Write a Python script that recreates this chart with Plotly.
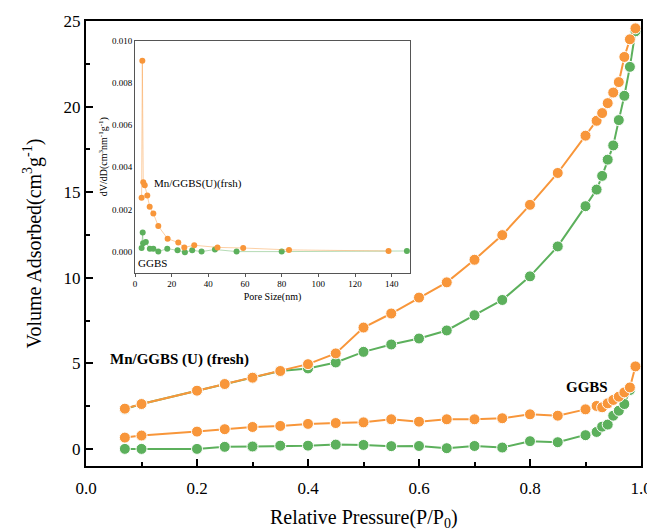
import plotly.graph_objects as go

# Main isotherms (relative pressure vs volume adsorbed)
p_points = [0.07, 0.10, 0.20, 0.25, 0.30, 0.35, 0.40, 0.45, 0.50, 0.55, 0.60, 0.65, 0.70,
            0.75, 0.80, 0.85, 0.90, 0.92, 0.93, 0.94, 0.95, 0.96, 0.97, 0.98, 0.99]
mn_orange_v = [2.35, 2.62, 3.40, 3.79, 4.16, 4.55, 4.95, 5.58, 7.09, 7.91, 8.84, 9.73, 11.05,
               12.49, 14.26, 16.12, 18.30, 19.17, 19.62, 20.20, 20.82, 21.43, 22.90, 23.93, 24.57]
mn_green_v = [2.33, 2.62, 3.40, 3.79, 4.16, 4.55, 4.70, 5.05, 5.67, 6.10, 6.45, 6.92, 7.81,
              8.70, 10.08, 11.83, 14.18, 15.15, 15.95, 16.90, 17.73, 19.21, 20.63, 22.32, 24.40]
gg_orange_v = [0.66, 0.78, 1.01, 1.15, 1.28, 1.34, 1.46, 1.51, 1.55, 1.73, 1.59, 1.73, 1.73,
               1.79, 2.02, 1.94, 2.31, 2.51, 2.43, 2.66, 2.86, 3.05, 3.30, 3.59, 4.82]
gg_green_p = p_points[:-1]
gg_green_v = [0.00, 0.00, 0.00, 0.12, 0.14, 0.19, 0.19, 0.25, 0.23, 0.16, 0.17, 0.04, 0.17,
              0.08, 0.45, 0.39, 0.80, 0.99, 1.30, 1.42, 1.94, 2.23, 2.62, 3.44]

# Inset: pore size distribution
pore_mn = [3.6, 4.0, 4.5, 5.3, 6.7, 8.0, 10.0, 12.7, 17.8, 23.6, 26.9, 32.3, 45.0, 59.0, 84.0, 138.3]
dvdd_mn = [0.00255, 0.00905, 0.00329, 0.00315, 0.00266, 0.00213, 0.00181, 0.00121, 0.00061,
           0.00043, 0.00020, 0.00030, 0.00020, 0.00017, 0.00008, 0.00003]
pore_gg = [3.6, 4.2, 4.4, 5.9, 8.1, 10.0, 12.7, 17.6, 23.2, 27.2, 31.2, 36.3, 43.6, 55.4, 80.0, 148.3]
dvdd_gg = [0.00017, 0.00090, 0.00039, 0.00045, 0.00014, 0.00014, 0.0, 0.00014, 0.00006,
           -0.00003, 0.00006, 0.0, 0.0001, 0.0, 0.0, 0.00003]

x_ticks = [0.0, 0.2, 0.4, 0.6, 0.8, 1.0]
y_ticks = [0, 5, 10, 15, 20, 25]
inset_x_ticks = [0, 20, 40, 60, 80, 100, 120, 140]
inset_y_ticks = [0.000, 0.002, 0.004, 0.006, 0.008, 0.010]

ORANGE = "#F8963A"
GREEN = "#5CB05C"
FONT = "Liberation Serif"

fig = go.Figure()

def main_trace(x, y, color):
    return go.Scatter(x=x, y=y, mode="lines+markers",
                      line=dict(color=color, width=2),
                      marker=dict(color=color, size=11, line=dict(color="white", width=1)),
                      showlegend=False, xaxis="x", yaxis="y")

fig.add_trace(main_trace(gg_green_p, gg_green_v, GREEN))
fig.add_trace(main_trace(p_points, gg_orange_v, ORANGE))
fig.add_trace(main_trace(p_points, mn_green_v, GREEN))
fig.add_trace(main_trace(p_points, mn_orange_v, ORANGE))

def inset_trace(x, y, color, lcolor):
    return go.Scatter(x=x, y=y, mode="lines+markers",
                      line=dict(color=lcolor, width=1),
                      marker=dict(color=color, size=6),
                      showlegend=False, xaxis="x2", yaxis="y2")

fig.add_trace(inset_trace(pore_gg, dvdd_gg, GREEN, "rgba(92,176,92,0.45)"))
fig.add_trace(inset_trace(pore_mn, dvdd_mn, ORANGE, "rgba(248,150,58,0.45)"))

fig.update_layout(
    width=647, height=524,
    margin=dict(l=78, r=14, t=13, b=66),
    paper_bgcolor="white", plot_bgcolor="white",
    font=dict(family=FONT, color="black"),
    xaxis=dict(range=[0, 1.0], tickvals=x_ticks, ticktext=[f"{v:.1f}" for v in x_ticks],
               automargin=False,
               showgrid=False, zeroline=False, showline=True, linecolor="black", linewidth=2,
               mirror=True, ticks="inside", ticklen=7, tickwidth=1.5, tickcolor="black",
               minor=dict(ticks="inside", ticklen=4, tickwidth=1.5, dtick=0.1, tickcolor="black"),
               tickfont=dict(size=17, family=FONT), ticklabelstandoff=6,
               ticklabeloverflow="allow"),
    yaxis=dict(range=[-1, 25], tickvals=y_ticks, showgrid=False, zeroline=False, showline=True,
               automargin=False,
               linecolor="black", linewidth=2, mirror=True, ticks="inside", ticklen=7,
               tickwidth=1.5, tickcolor="black",
               minor=dict(ticks="inside", ticklen=4, tickwidth=1.5, dtick=2.5, tickcolor="black"),
               tickfont=dict(size=17, family=FONT),
               title=dict(text="Volume Adsorbed(cm<sup>3</sup>g<sup>-1</sup>)",
                          font=dict(size=20, family=FONT), standoff=17)),
    xaxis2=dict(domain=[0.0883, 0.5838], anchor="y2", range=[0, 150], tickvals=inset_x_ticks,
                automargin=False,
                showgrid=False, zeroline=False, showline=True, linecolor="#555", linewidth=1,
                mirror=True, ticks="outside", ticklen=3, tickwidth=1, tickcolor="#555",
                tickfont=dict(size=9, family=FONT),
                title=dict(text="Pore Size(nm)", font=dict(size=10, family=FONT), standoff=4)),
    yaxis2=dict(domain=[0.4344, 0.9557], anchor="x2", range=[-0.001, 0.010],
                automargin=False,
                tickvals=inset_y_ticks, ticktext=[f"{v:.3f}" for v in inset_y_ticks],
                showgrid=False, zeroline=False, showline=True, linecolor="#555", linewidth=1,
                mirror=True, ticks="", tickfont=dict(size=9, family=FONT),
                title=dict(text="dV/dD(cm<sup>3</sup>nm<sup>-1</sup>g<sup>-1</sup>)",
                           font=dict(size=10, family=FONT), standoff=2)),
)

# x-axis title placed as a paper annotation so its offset is exact
fig.add_annotation(x=0.5, y=-0.117, xref="paper", yref="paper", xanchor="center",
                   yanchor="middle", text="Relative Pressure(P/P<sub>0</sub>)", showarrow=False,
                   font=dict(size=20, family=FONT, color="black"))

fig.add_annotation(x=0.04, y=5.2, xref="x", yref="y", xanchor="left", yanchor="middle",
                   text="<b>Mn/GGBS (U) (fresh)</b>", showarrow=False,
                   font=dict(size=15, family=FONT, color="black"))
fig.add_annotation(x=0.862, y=3.6, xref="x", yref="y", xanchor="left", yanchor="middle",
                   text="<b>GGBS</b>", showarrow=False,
                   font=dict(size=15, family=FONT, color="black"))
fig.add_annotation(x=9, y=0.00325, xref="x2", yref="y2", xanchor="left", yanchor="middle",
                   text="Mn/GGBS(U)(frsh)", showarrow=False,
                   font=dict(size=11, family=FONT, color="black"))
fig.add_annotation(x=0.5, y=-0.00055, xref="x2", yref="y2", xanchor="left", yanchor="middle",
                   text="GGBS", showarrow=False,
                   font=dict(size=11, family=FONT, color="black"))

fig.write_html("out.html")
